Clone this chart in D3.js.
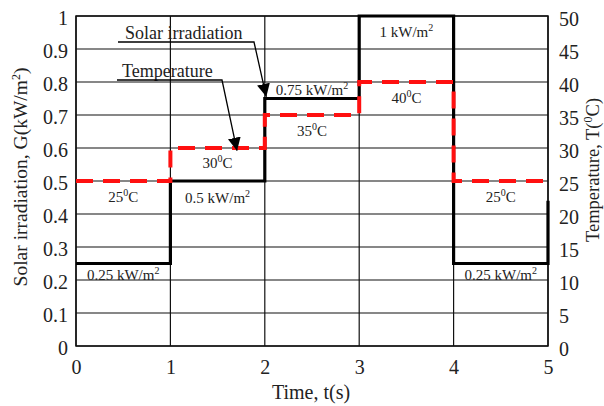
<!DOCTYPE html>
<html><head><meta charset="utf-8">
<script src="https://cdn.jsdelivr.net/npm/d3@7"></script>
<style>html,body{margin:0;padding:0;background:#fff;}svg{display:block;}</style>
</head><body>
<svg id="c" width="604" height="406"></svg>
<script>
// Data
const timeTicks = [0,1,2,3,4,5];
const irrTicks = [0,0.1,0.2,0.3,0.4,0.5,0.6,0.7,0.8,0.9,1];
const tempTicks = [0,5,10,15,20,25,30,35,40,45,50];
const stepStarts = [0,1,2,3,4];
const irradiance = [0.25,0.5,0.75,1.0,0.25];
const irradianceEnd = 0.44;   // value at right edge (t = 5)
const temperature = [25,30,35,40,25];
const irrLabels = ["0.25","0.5","0.75","1","0.25"];
const tempLabels = ["25","30","35","40","25"];

const FONT = "'Liberation Serif','Times New Roman',Times,serif";
const svg = d3.select("#c");
const L = 76, R = 548, T = 16, B = 346;
const x = d3.scaleLinear().domain([0,5]).range([L,R]);
const y = d3.scaleLinear().domain([0,1]).range([B,T]);
const y2 = d3.scaleLinear().domain([0,50]).range([B,T]);

// Gridlines
const g = svg.append("g");
g.selectAll(".hg").data(irrTicks).join("line")
  .attr("x1",L).attr("x2",R).attr("y1",d=>y(d)).attr("y2",d=>y(d))
  .attr("stroke","#111").attr("stroke-width",1.2);
g.selectAll(".vg").data(timeTicks).join("line")
  .attr("y1",T).attr("y2",B).attr("x1",d=>x(d)).attr("x2",d=>x(d))
  .attr("stroke","#111").attr("stroke-width",1.2);
svg.append("rect").attr("x",L).attr("y",T).attr("width",R-L).attr("height",B-T)
  .attr("fill","none").attr("stroke","#111").attr("stroke-width",1.5);

// Axes
const axL = d3.axisLeft(y).tickValues(irrTicks).tickSize(0).tickPadding(8).tickFormat(d=>d===0||d===1?String(d):d3.format(".1f")(d));
const axR = d3.axisRight(y2).tickValues(tempTicks).tickSize(0).tickPadding(11).tickFormat(d3.format("d"));
const axB = d3.axisBottom(x).tickValues(timeTicks).tickSize(0).tickPadding(14).tickFormat(d3.format("d"));
[[axL,`translate(${L},0)`,"0.42em"],[axR,`translate(${R},0)`,"0.45em"],[axB,`translate(0,${B})`,null]].forEach(([a,t,dy])=>{
  const ga = svg.append("g").attr("transform",t).call(a);
  ga.attr("font-family",FONT).attr("font-size",20);
  ga.select(".domain").remove();
  ga.selectAll("text").attr("fill","#222");
  if (dy) ga.selectAll("text").attr("dy",dy);
});

function txt(xx,yy,size){
  return svg.append("text").attr("x",xx).attr("y",yy).attr("font-family",FONT).attr("font-size",size).attr("fill","#222");
}
// Axis titles
txt(311,399,20).attr("text-anchor","middle").text("Time, t(s)");
const lt = txt(0,0,19.5).attr("transform","translate(27,177) rotate(-90)").attr("text-anchor","middle");
lt.append("tspan").text("Solar irradiation, G(kW/m");
lt.append("tspan").attr("dy",-7).attr("font-size",12).text("2");
lt.append("tspan").attr("dy",7).text(")");
const rt = txt(0,0,18.5).attr("transform","translate(599,170) rotate(-90)").attr("text-anchor","middle");
rt.append("tspan").text("Temperature, T(");
rt.append("tspan").attr("dy",-7).attr("font-size",12).text("0");
rt.append("tspan").attr("dy",7).text("C)");

// Step series
const irrPts = stepStarts.map((t,i)=>[t,irradiance[i]]).concat([[5,irradiance[irradiance.length-1]],[5,irradianceEnd]]);
const tempPts = stepStarts.map((t,i)=>[t,temperature[i]]).concat([[5,temperature[temperature.length-1]]]);
svg.append("path").datum(irrPts)
  .attr("d",d3.line().x(d=>x(d[0])).y(d=>y(d[1])).curve(d3.curveStepAfter))
  .attr("fill","none").attr("stroke","#000").attr("stroke-width",3.2);
svg.append("path").datum(tempPts)
  .attr("d",d3.line().x(d=>x(d[0])).y(d=>y2(d[1])).curve(d3.curveStepAfter))
  .attr("fill","none").attr("stroke","#ff1010").attr("stroke-width",4).attr("stroke-dasharray","17,10");

// Value labels
function kw(sel,val){ sel.append("tspan").text(val+" kW/m"); sel.append("tspan").attr("dy",-6).attr("font-size",10).text("2"); }
function deg(sel,val){ sel.append("tspan").text(val); sel.append("tspan").attr("dy",-6).attr("font-size",10).text("0"); sel.append("tspan").attr("dy",6).text("C"); }
stepStarts.forEach((t,i)=>{
  const v = irradiance[i];
  const off = v===1 ? 21 : (v===0.75 ? -3.5 : (v===0.25 ? 16 : 22));
  kw(txt(x(t+0.5),y(v)+off,15).attr("text-anchor","middle"), irrLabels[i]);
});
stepStarts.forEach((t,i)=>{
  const off = i===1 ? 20 : 21;
  deg(txt(x(t+0.5),y2(temperature[i])+off,15).attr("text-anchor","middle"), tempLabels[i]);
});

// Annotations with arrows
svg.append("defs").append("marker").attr("id","ah").attr("viewBox","0 0 12 12")
  .attr("refX",12).attr("refY",6).attr("markerWidth",13).attr("markerHeight",13).attr("markerUnits","userSpaceOnUse").attr("orient","auto")
  .append("path").attr("d","M0,0 L12,6 L0,12 Z").attr("fill","#000");
function annot(label, tx, ty, ux1, ux2, uy, ax, ay){
  txt(tx,ty,18).text(label);
  svg.append("polyline").attr("points",`${ux1},${uy} ${ux2},${uy} ${ax},${ay}`)
    .attr("fill","none").attr("stroke","#000").attr("stroke-width",1.3).attr("marker-end","url(#ah)");
}
annot("Solar irradiation",125,39,118,254,42,x(2)+1.5,y(0.755));
annot("Temperature",122,77,117,222,80,237,y2(29.6));
</script>
</body></html>
